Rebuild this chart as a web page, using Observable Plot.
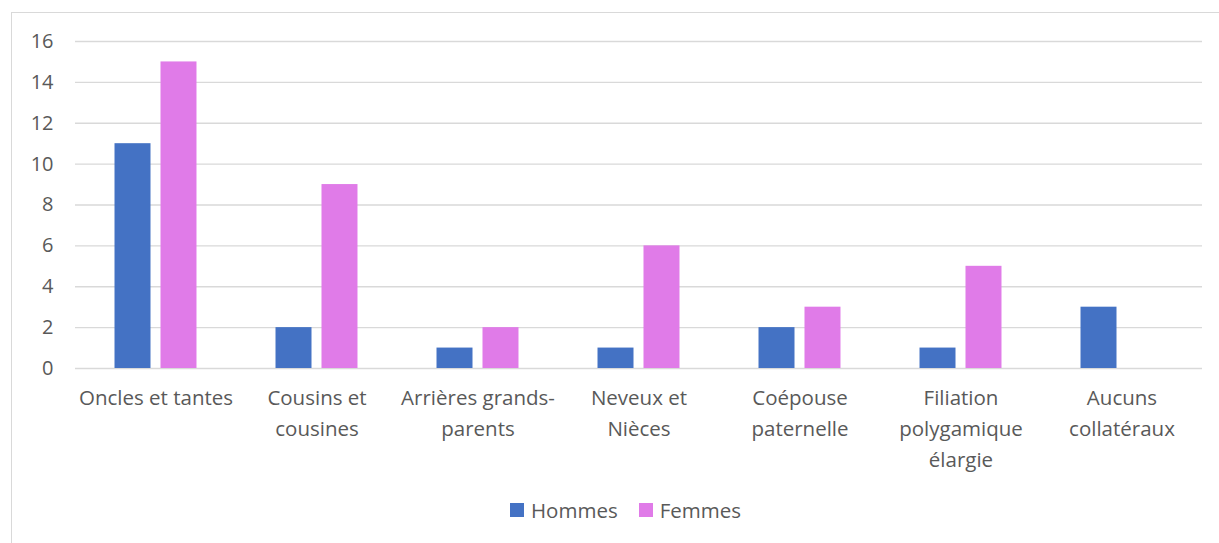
<!DOCTYPE html>
<html>
<head>
<meta charset="utf-8">
<script src="https://cdn.jsdelivr.net/npm/d3@7"></script>
<script src="https://cdn.jsdelivr.net/npm/@observablehq/plot@0.6"></script>
<style>
  html, body { margin: 0; padding: 0; background: #fff; }
  body { width: 1219px; height: 543px; position: relative; overflow: hidden; font-family: "Open Sans", Lato, sans-serif; }
  #frame { position: absolute; left: 11px; top: 12px; width: 1300px; height: 600px; border: 1px solid #d9d9d9; box-sizing: border-box; }
  #chart { position: absolute; left: 0; top: 0; }
  #legend { position: absolute; top: 496px; left: 16px; width: 1219px; display: flex; justify-content: center; gap: 21px; font-size: 20.5px; color: #595959; }
  #legend span.item { display: flex; align-items: center; }
  #legend span.sw { display: inline-block; width: 14px; height: 14px; margin-right: 7px; }
</style>
</head>
<body>
<div id="frame"></div>
<div id="chart"></div>
<div id="legend"></div>
<script>
const categories = ["Oncles et tantes", "Cousins et cousines", "Arrières grands-parents", "Neveux et Nièces", "Coépouse paternelle", "Filiation polygamique élargie", "Aucuns collatéraux"];
const categoryLabels = ["Oncles et tantes", "Cousins et\ncousines", "Arrières grands-\nparents", "Neveux et\nNièces", "Coépouse\npaternelle", "Filiation\npolygamique\nélargie", "Aucuns\ncollatéraux"];
const series = ["Hommes", "Femmes"];
const hommes = [11, 2, 1, 1, 2, 1, 3];
const femmes = [15, 9, 2, 6, 3, 5, 0];
const colors = ["#4472C4", "#E07BE8"];
const yTicks = [0, 2, 4, 6, 8, 10, 12, 14, 16];

const data = [];
categories.forEach((c, i) => {
  data.push({category: c, series: "Hommes", value: hommes[i]});
  data.push({category: c, series: "Femmes", value: femmes[i]});
});
const labelOf = new Map(categories.map((c, i) => [c, categoryLabels[i]]));

const chart = Plot.plot({
  width: 1219,
  height: 480,
  marginTop: 41,
  marginBottom: 112,
  marginLeft: 75,
  marginRight: 17,
  style: {fontFamily: "'Open Sans', Lato, sans-serif", fontSize: "20px", color: "#595959", background: "transparent"},
  fx: {domain: categories, padding: 0, round: false},
  x: {domain: series, paddingInner: 10 / 46, paddingOuter: 0.859, round: false, axis: null},
  y: {domain: [0, 16], axis: null},
  color: {domain: series, range: colors},
  marks: [
    Plot.gridY(yTicks, {stroke: "#d9d9d9", strokeOpacity: 1, strokeWidth: 1.3}),
    Plot.axisY(yTicks, {tickSize: 0, tickPadding: 22, fontSize: 20, fill: "#595959", label: null}),
    Plot.barY(data, {fx: "category", x: "series", y: "value", fill: "series"}),
    Plot.axisFx({anchor: "bottom", tickSize: 0, tickPadding: 15, label: null, fontSize: 20.5, fill: "#595959", lineHeight: 1.5, tickFormat: d => labelOf.get(d)})
  ]
});
document.getElementById("chart").appendChild(chart);

const legend = document.getElementById("legend");
series.forEach((s, i) => {
  const item = document.createElement("span");
  item.className = "item";
  const sw = document.createElement("span");
  sw.className = "sw";
  sw.style.background = colors[i];
  item.appendChild(sw);
  item.appendChild(document.createTextNode(s));
  legend.appendChild(item);
});
</script>
</body>
</html>
